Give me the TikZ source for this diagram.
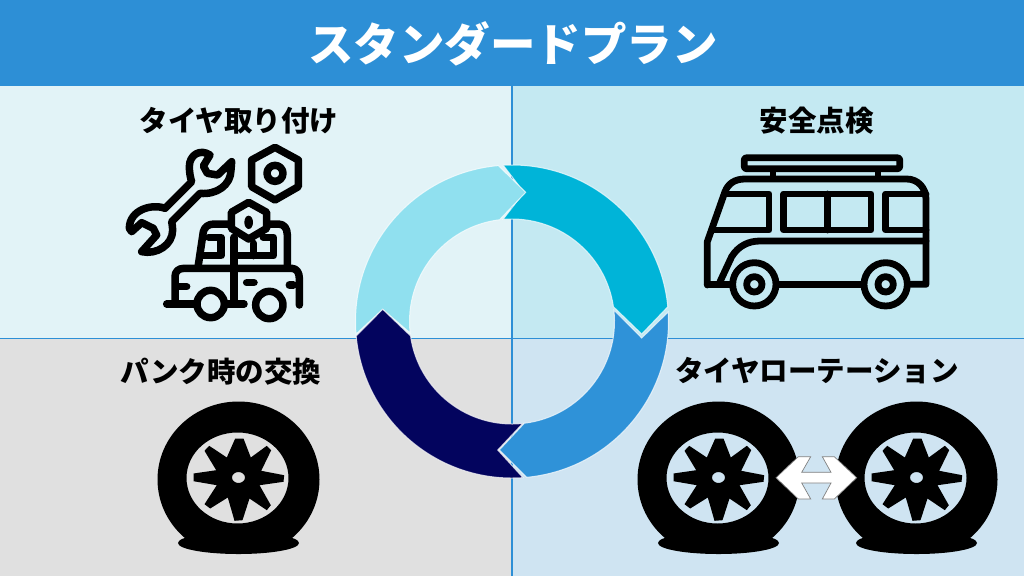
\documentclass[tikz,border=0pt]{standalone}
\usepackage{fontspec}
\newfontfamily\cjk{Noto Sans CJK JP}
\definecolor{barblue}{HTML}{2D8FD6}
\definecolor{paneltl}{HTML}{E2F3F7}
\definecolor{paneltr}{HTML}{C4E9F2}
\definecolor{panelbl}{HTML}{E0E0E0}
\definecolor{panelbr}{HTML}{CFE4F2}
\definecolor{ringlight}{HTML}{90E0EF}
\definecolor{ringcyan}{HTML}{00B4D8}
\definecolor{ringblue}{HTML}{2F92D8}
\definecolor{ringnavy}{HTML}{03045E}
\tikzset{
  heading/.style={font=\cjk\bfseries\fontsize{28.5}{28.5}\selectfont, inner sep=0pt},
  seg/.style={draw=white, draw opacity=.7, line width=1pt, line join=miter},
  icon/.style={line width=6.8pt, line join=round, line cap=round},
  tire/.pic={
    \fill (0,65.5) ellipse [x radius=60.5, y radius=11];
    \begin{scope}
      \clip (-90,-90) rectangle (90,62);
      \fill[even odd rule] (0,2) ellipse [x radius=81, y radius=78]
        (-1,0.5) ellipse [x radius=51, y radius=45.5];
    \end{scope}
    \fill[even odd rule] (-3.3,-39) -- (5,-39) -- (12.3,-20) -- (28.3,-31.7) -- (32.7,-27.3)
      -- (22.7,-6.7) -- (45.7,-2.3) -- (45,4.3) -- (21,7.7) -- (32.3,27.7) -- (28.3,32.7)
      -- (11,21) -- (4,42.7) -- (-4,43.3) -- (-10.7,20) -- (-28.3,31) -- (-34,26.7)
      -- (-21.7,7.7) -- (-45,3.7) -- (-45,-4) -- (-22.3,-7.3) -- (-34,-26.7) -- (-29.3,-31.7)
      -- (-11.7,-20) -- cycle
      (0,0) ellipse [x radius=6.5, y radius=5.5];
  }
}
\begin{document}
\begin{tikzpicture}[x=1pt, y=-1pt]
  \useasboundingbox (0,0) rectangle (1024,576);
  % panels
  \fill[paneltl] (0,86) rectangle (512,339);
  \fill[paneltr] (512,86) rectangle (1024,339);
  \fill[panelbl] (0,339) rectangle (512,576);
  \fill[panelbr] (512,339) rectangle (1024,576);
  \fill[barblue] (0,0) rectangle (1024,86);
  \draw[barblue, line width=1.4pt] (512,86) -- (512,576);
  \draw[barblue, line width=1.4pt] (0,338.5) -- (1024,338.5);
  % texts
  \node[heading, text=white, font=\cjk\bfseries\fontsize{45.5}{45.5}\selectfont] (title) at (513,44) {スタンダードプラン};
  \node[heading] (mount)    at (239,121) {タイヤ取り付け};
  \node[heading] (check)    at (816.5,121) {安全点検};
  \node[heading] (puncture) at (221,372) {パンク時の交換};
  \node[heading] (rotation) at (817,371) {タイヤローテーション};
  % ring
  \begin{scope}[shift={(512,321.5)}]
    \fill[ringcyan, seg] (266.8:156.5) arc [start angle=266.8, end angle=354.6, radius=156.5]
      -- (129.7,12.5) -- (351.7:102.5) arc [start angle=351.7, end angle=265, radius=102.5]
      -- (12,-129.2) -- cycle;
    \fill[ringlight, seg] (175.4:156.5) arc [start angle=175.4, end angle=265, radius=156.5]
      -- (13.7,-129.2) -- (263:102.5) arc [start angle=263, end angle=173.6, radius=102.5]
      -- (-129.3,-12.2) -- cycle;
    \fill[ringblue, seg] (356.5:156.5) arc [start angle=356.5, end angle=444.6, radius=156.5]
      -- (-12.7,128.5) -- (443.1:102.5) arc [start angle=443.1, end angle=353.6, radius=102.5]
      -- (129.7,16.5) -- cycle;
    \fill[ringnavy, seg] (86:156.5) arc [start angle=86, end angle=174.7, radius=156.5]
      -- (-129.3,-12.2) -- (171.9:102.5) arc [start angle=171.9, end angle=84, radius=102.5]
      -- (-14.3,128.5) -- cycle;
  \end{scope}
  % tires
  \pic at (238.5,477.5) {tire};
  \pic at (718.5,477.5) {tire};
  \pic at (916.5,477.5) {tire};
  \draw[fill=white, draw=gray, line width=.7pt, line join=miter] (776,477.7) -- (798.3,456.7) -- (810.7,456.7)
    -- (801.7,472.3) -- (831,472.3) -- (822.3,456.7) -- (834.3,456.7) -- (856.7,477.7)
    -- (834.3,499) -- (822.3,499) -- (831,483) -- (801.7,483) -- (810.7,499) -- (798.3,499) -- cycle;
  % van
  \begin{scope}[shift={(690,140)}, scale=1/3, icon]
    \draw[rounded corners=2pt] (163,53.5) rectangle (629,86);
    \draw (249,90) -- (249,112);
    \draw (564,90) -- (564,112);
    \draw (52,435) -- (52,305) -- (105,155) .. controls (115,130) and (135,117) .. (165,117)
      -- (650,117) .. controls (685,117) and (708,145) .. (708,178) -- (708,433) -- (662,433);
    \draw (52,433) -- (125,433);
    \draw (265,433) -- (518,433);
    \draw (105,162) -- (237,162) -- (237,270) -- (72,270);
    \draw (281,162) rectangle (543,270);
    \draw (413,162) -- (413,270);
    \draw (708,162) -- (587,162) -- (587,270) -- (708,270);
    \draw (90,425) -- (125,350) .. controls (145,318) and (175,303) .. (210,303) -- (708,303);
    \draw (193,433) circle [radius=65];
    \draw (193,433) circle [radius=23];
    \draw (587,433) circle [radius=65];
    \draw (587,433) circle [radius=23];
  \end{scope}
  % wrench, nuts and car
  \begin{scope}[shift={(110,130)}, scale=1/3, icon, line width=7.5pt]
    \draw (300,75) .. controls (270,55) and (238,75) .. (238,110) .. controls (238,130) and (242,145) .. (245,155)
      -- (165,235) .. controls (125,220) and (58,240) .. (58,295) -- (65,305) -- (95,278) -- (130,295) -- (140,315) -- (95,365)
      .. controls (140,375) and (188,345) .. (188,300) .. controls (188,290) and (186,282) .. (185,275) -- (270,190)
      .. controls (320,195) and (363,165) .. (363,120) -- (365,95) -- (323,135) -- (292,130) -- (280,108) -- cycle;
    \draw (495,52) -- (565,90) -- (565,170) -- (495,210) -- (425,170) -- (425,90) -- cycle;
    \draw (495,130) circle [radius=24];
    \draw (265,405) -- (280,305) .. controls (283,292) and (295,282) .. (312,282) -- (365,282);
    \draw (470,282) -- (505,282) .. controls (522,282) and (532,295) .. (532,315) -- (532,410);
    \draw (272,377) -- (333,377) -- (333,322) -- (296,322);
    \draw (372,377) -- (490,377) -- (490,322) -- (460,322);
    \draw (430,340) -- (430,377);
    \draw (372,322) -- (372,520);
    \fill[paneltl, draw=black] (416,217) -- (470,247) -- (470,295) -- (416,327) -- (364,295) -- (364,247) -- cycle;
    \fill (416,277) ellipse [x radius=13, y radius=20];
    \draw (195,510) -- (195,440) .. controls (195,425) and (205,415) .. (222,415) -- (545,415)
      .. controls (560,415) and (568,428) .. (568,445) -- (568,525);
    \draw (170,522) -- (402,522);
    \draw (205,470) -- (230,470);
    \draw (410,458) -- (432,458);
    \draw (538,465) -- (550,465);
    \draw[fill=paneltl] (302,522) circle [radius=41];
    \draw[fill=paneltl] (478,525) circle [radius=41];
  \end{scope}
\end{tikzpicture}
\end{document}
